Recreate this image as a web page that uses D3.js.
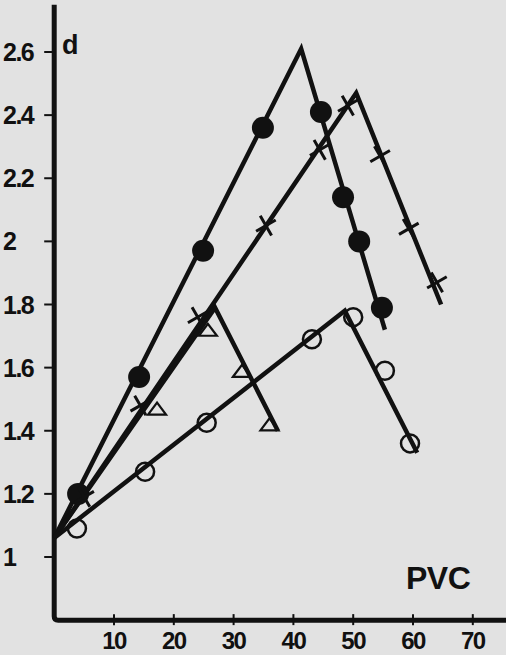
<!DOCTYPE html>
<html>
<head>
<meta charset="utf-8">
<script src="https://cdn.jsdelivr.net/npm/d3@7"></script>
<style>
  body { margin: 0; background: #e2e2e2; }
  svg { display: block; }
  text { font-family: "Liberation Sans", Arial, sans-serif; font-weight: bold; fill: #111; }
</style>
</head>
<body>
<div id="winArea"></div>
<script>
// fitted lines (PVC, d) for each series
const lineFilled = [[0, 1.06], [41.3, 2.61], [55.3, 1.72]];
const lineCross = [[0, 1.06], [50.5, 2.47], [64.7, 1.80]];
const lineTriangle = [[0, 1.06], [26.9, 1.79], [37.4, 1.40]];
const lineOpen = [[0, 1.06], [48.6, 1.78], [60.7, 1.33]];

// measured points
const ptsFilled = [[4, 1.2], [14.2, 1.57], [24.9, 1.97], [34.9, 2.36], [44.6, 2.41], [48.3, 2.14], [51, 2.0], [54.8, 1.79]];
const ptsCross = [[5, 1.19], [14.4, 1.48], [24, 1.76], [35.4, 2.05], [44.4, 2.29], [49.1, 2.43], [54.5, 2.27], [59.3, 2.04], [64, 1.87]];
const ptsTriangle = [[17.2, 1.47], [25.7, 1.72], [31.4, 1.59], [36, 1.42]];
const ptsOpen = [[3.8, 1.09], [15.2, 1.27], [25.5, 1.425], [43.1, 1.69], [50, 1.76], [55.3, 1.59], [59.5, 1.36]];

const xTicks = [10, 20, 30, 40, 50, 60, 70];
const yTicks = [1, 1.2, 1.4, 1.6, 1.8, 2, 2.2, 2.4, 2.6];

const width = 506, height = 655;
const ink = "#111";

const svg = d3.select("#winArea")
    .append("svg")
    .attr("width", width)
    .attr("height", height);

svg.append("rect").attr("width", width).attr("height", height).attr("fill", "#e2e2e2");

const xScale = d3.scaleLinear().domain([0, 70]).range([54.2, 472.8]);
const yScale = d3.scaleLinear().domain([1, 2.6]).range([557, 52]);

//axis frame
const x0 = xScale(0), yb = yScale(0.8);
svg.append("path")
    .attr("d", `M${x0},${yScale(2.75)} L${x0},${yb - 4} Q${x0},${yb} ${x0 + 4},${yb} L${xScale(78)},${yb}`)
    .attr("fill", "none")
    .attr("stroke", ink)
    .attr("stroke-width", 5);

//y ticks
svg.append("g")
    .selectAll("line")
    .data(yTicks)
    .join("line")
    .attr("x1", x0 - 10)
    .attr("x2", x0)
    .attr("y1", d => yScale(d))
    .attr("y2", d => yScale(d))
    .attr("stroke", ink)
    .attr("stroke-width", 2);

svg.append("g")
    .selectAll("text")
    .data(yTicks)
    .join("text")
    .attr("x", 3)
    .attr("y", d => yScale(d))
    .attr("dy", "0.36em")
    .style("font-size", "25px")
    .style("letter-spacing", "-1.5px")
    .text(d => d3.format("")(d));

//x ticks
svg.append("g")
    .selectAll("line")
    .data(xTicks)
    .join("line")
    .attr("x1", d => xScale(d))
    .attr("x2", d => xScale(d))
    .attr("y1", yb - 6)
    .attr("y2", yb + 5)
    .attr("stroke", ink)
    .attr("stroke-width", 2);

svg.append("g")
    .selectAll("text")
    .data(xTicks)
    .join("text")
    .attr("x", d => xScale(d))
    .attr("y", yb + 29)
    .attr("text-anchor", "middle")
    .style("font-size", "24px")
    .style("letter-spacing", "-1.5px")
    .text(d => d);

//axis labels
svg.append("text").attr("x", 62).attr("y", 54).style("font-size", "27px").text("d");
svg.append("text").attr("x", 406).attr("y", 589).style("font-size", "32px").style("letter-spacing", "-0.5px").text("PVC");

//lines
const line = d3.line().x(d => xScale(d[0])).y(d => yScale(d[1]));
[lineFilled, lineCross, lineTriangle, lineOpen].forEach(l => {
    svg.append("path")
        .attr("d", line(l))
        .attr("fill", "none")
        .attr("stroke", ink)
        .attr("stroke-width", 4.5)
        .attr("stroke-linejoin", "miter");
});

//filled circles
svg.append("g")
    .selectAll("circle")
    .data(ptsFilled)
    .join("circle")
    .attr("cx", d => xScale(d[0]))
    .attr("cy", d => yScale(d[1]))
    .attr("r", 11)
    .attr("fill", ink);

//open circles
svg.append("g")
    .selectAll("circle")
    .data(ptsOpen)
    .join("circle")
    .attr("cx", d => xScale(d[0]))
    .attr("cy", d => yScale(d[1]))
    .attr("r", 9)
    .attr("fill", "none")
    .attr("stroke", ink)
    .attr("stroke-width", 2.5);

//triangles
svg.append("g")
    .selectAll("path")
    .data(ptsTriangle)
    .join("path")
    .attr("transform", d => `translate(${xScale(d[0])},${yScale(d[1])})`)
    .attr("d", "M-9,6 L0,-6 L9,6 Z")
    .attr("fill", "none")
    .attr("stroke", ink)
    .attr("stroke-width", 2.2)
    .attr("stroke-linejoin", "miter");

//crosses
svg.append("g")
    .selectAll("path")
    .data(ptsCross)
    .join("path")
    .attr("transform", d => `translate(${xScale(d[0])},${yScale(d[1])}) rotate(15)`)
    .attr("d", "M-8,-8 L8,8 M-8,8 L8,-8")
    .attr("fill", "none")
    .attr("stroke", ink)
    .attr("stroke-width", 3);
</script>
</body>
</html>
